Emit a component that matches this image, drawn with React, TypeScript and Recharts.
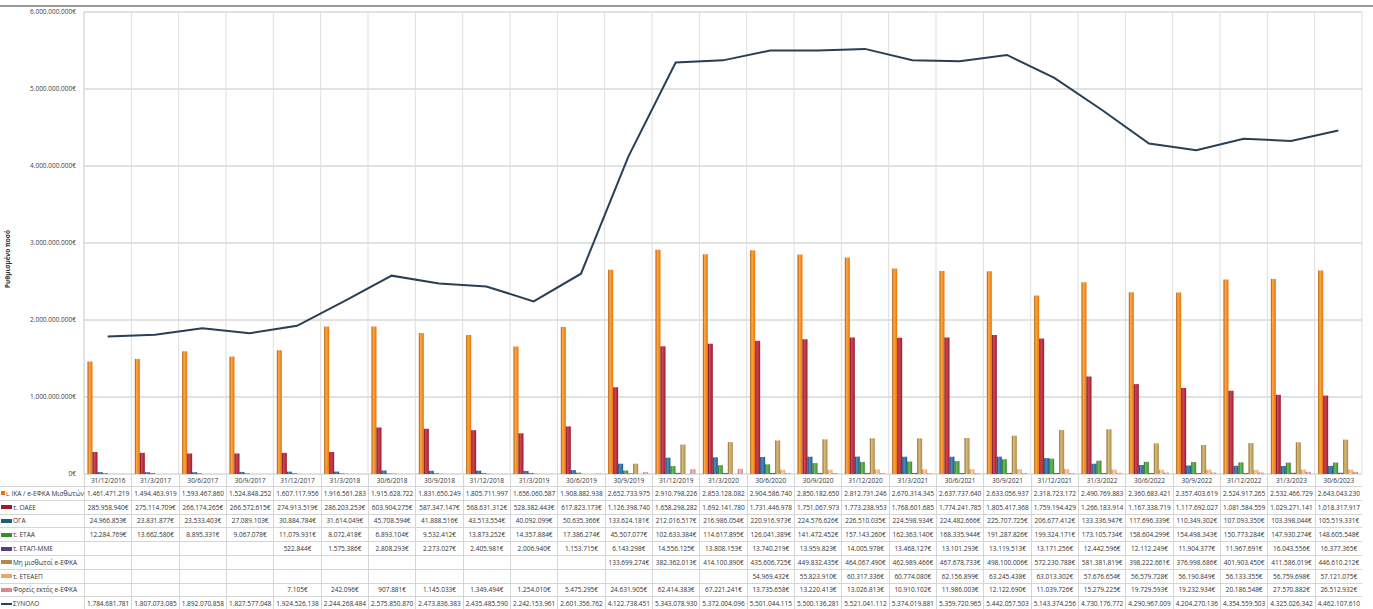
import { ComposedChart, Bar, Line, XAxis, YAxis, CartesianGrid } from "recharts";

const dates = [
  "31/12/2016", "31/3/2017", "30/6/2017", "30/9/2017", "31/12/2017", "31/3/2018",
  "30/6/2018", "30/9/2018", "31/12/2018", "31/3/2019", "30/6/2019", "30/9/2019",
  "31/12/2019", "31/3/2020", "30/6/2020", "30/9/2020", "31/12/2020", "31/3/2021",
  "30/6/2021", "30/9/2021", "31/12/2021", "31/3/2022", "30/6/2022", "30/9/2022",
  "31/12/2022", "31/3/2023", "30/6/2023",
];

const ika = [
  1461471219, 1494463919, 1593467860, 1524848252, 1607117956, 1916561283,
  1915628722, 1831650249, 1805711997, 1656060587, 1908882938, 2652733975,
  2910798226, 2853128082, 2904586740, 2850182650, 2812731246, 2670314345,
  2637737640, 2633056937, 2318723172, 2490769883, 2360683421, 2357403619,
  2524917265, 2532466729, 2643043230,
];
const oaee = [
  285958940, 275114709, 266174265, 266572615, 274913519, 286203253,
  603904275, 587347147, 568631312, 528382443, 617823173, 1126398740,
  1658298282, 1692141780, 1731446978, 1751067973, 1773238953, 1768601685,
  1774241785, 1805417368, 1759194429, 1266183914, 1167338719, 1117692027,
  1081584559, 1029271141, 1018317917,
];
const oga = [
  24966853, 23831877, 23533403, 27089103, 30884784, 31614049,
  45708594, 41888516, 43513554, 40092099, 50635366, 133624181,
  212016517, 216986054, 220916973, 224576626, 226510035, 224598934,
  224482666, 225707725, 206677412, 133336947, 117696339, 110349302,
  107093350, 103398044, 105519331,
];
const etaa = [
  12284769, 13662580, 8895331, 9067078, 11079931, 8072418,
  6893104, 9532412, 13873252, 14357884, 17386274, 45507077,
  102633384, 114617895, 126041389, 141472452, 157143260, 162363140,
  168335944, 191287826, 199324171, 173105734, 158604299, 154498343,
  150773284, 147930274, 148605548,
];
const etapMme = [
  null, null, null, null, 522844, 1575386,
  2808293, 2273027, 2405981, 2006940, 1153715, 6143298,
  14556125, 13808153, 13740219, 13959823, 14005978, 13468127,
  13101293, 13119513, 13171256, 12442596, 12112249, 11904377,
  11967691, 16043556, 16377365,
];
const miMisthotoi = [
  null, null, null, null, null, null,
  null, null, null, null, null, 133699274,
  382362013, 414100890, 435606725, 449832435, 464067490, 462989466,
  467678733, 498100006, 572230788, 581381819, 398222661, 376998686,
  401903450, 411586019, 446610212,
];
const eteaep = [
  null, null, null, null, null, null,
  null, null, null, null, null, null,
  null, null, 54969432, 55823910, 60317336, 60774080,
  62156899, 63245438, 63013302, 57676654, 56579728, 56190849,
  56133355, 56759698, 57121075,
];
const foreis = [
  null, null, null, null, 7105, 242096,
  907881, 1145033, 1349494, 1254010, 5475295, 24631905,
  62414383, 67221241, 13735658, 13220413, 13026813, 10910102,
  11986003, 12122690, 11039726, 15279225, 19729593, 19232934,
  20186548, 27570882, 26512932,
];
const synolo = [
  1784681781, 1807073085, 1892070858, 1827577048, 1924526138, 2244268484,
  2575850870, 2473836383, 2435485590, 2242153961, 2601356762, 4122738451,
  5343078930, 5372004096, 5501044115, 5500136281, 5521041112, 5374019881,
  5359720965, 5442057503, 5143374256, 4730176772, 4290967009, 4204270136,
  4354559503, 4325026342, 4462107610,
];

const yTicks = [0, 1000000000, 2000000000, 3000000000, 4000000000, 5000000000, 6000000000];

const series = [
  { key: "ika", name: "ι. ΙΚΑ / e-ΕΦΚΑ Μισθωτών", values: ika, base: "#E97300", light: "#FFA84A", dark: "#A85200" },
  { key: "oaee", name: "τ. ΟΑΕΕ", values: oaee, base: "#9C1A2C", light: "#D2475A", dark: "#6A0F1C" },
  { key: "oga", name: "ΟΓΑ", values: oga, base: "#1E5C88", light: "#4D8FC2", dark: "#123C5C" },
  { key: "etaa", name: "τ. ΕΤΑΑ", values: etaa, base: "#3A8A30", light: "#6FBE5E", dark: "#245E1C" },
  { key: "etap", name: "τ. ΕΤΑΠ-ΜΜΕ", values: etapMme, base: "#5C3A8C", light: "#8C6CBC", dark: "#3C2462" },
  { key: "mi", name: "Μη μισθωτοί e-ΕΦΚΑ", values: miMisthotoi, base: "#B08A46", light: "#DCBE7E", dark: "#7E602C" },
  { key: "eteaep", name: "τ. ΕΤΕΑΕΠ", values: eteaep, base: "#F0A466", light: "#FFD2A4", dark: "#C47C40" },
  { key: "foreis", name: "Φορείς εκτός e-ΕΦΚΑ", values: foreis, base: "#D68A92", light: "#F2BCC2", dark: "#AA626A" },
];

const data = dates.map((d, i) => {
  const row: Record<string, string | number | null> = { date: d, synolo: synolo[i] };
  series.forEach((s) => (row[s.key] = s.values[i]));
  return row;
});

const dots = (v: number) => Math.round(v).toString().replace(/\B(?=(\d{3})+(?!\d))/g, ".");
const cellText = (v: number | null) => (v == null ? "" : v >= 1e9 ? dots(v) : dots(v) + "€");

const FONT = '"Liberation Sans Narrow", "Open Sans", sans-serif';
const LINE = "#283F55";
const BORDER = "1px solid #d6d6d6";

export default function App() {
  const rows = [
    ...series.map((s) => ({ name: s.name, values: s.values, key: s.key, color: s.base, isLine: false })),
    { name: "ΣΥΝΟΛΟ", values: synolo, key: "synolo", color: LINE, isLine: true },
  ];
  const gridCols = `84px repeat(${dates.length}, 1fr)`;
  const rowH = 12.8;

  const cell = {
    height: rowH,
    borderLeft: BORDER,
    borderBottom: BORDER,
    display: "flex",
    alignItems: "center",
    justifyContent: "center",
    whiteSpace: "nowrap" as const,
    overflow: "hidden",
  };

  return (
    <div style={{ position: "absolute", left: 0, top: 0, width: 1373, height: 609, background: "#fff", overflow: "hidden", fontFamily: FONT }}>
      <div style={{ position: "absolute", left: 0, top: 5, width: 1373, height: 2, background: "#9a9a9a" }} />
      <div style={{ position: "absolute", left: 0, top: 0 }}>
        <ComposedChart
          width={1373}
          height={490}
          data={data}
          margin={{ top: 12, right: 11, left: 0, bottom: 16 }}
          barCategoryGap={3.5}
          barGap={0}
        >
          <defs>
            {series.map((s) => (
              <linearGradient key={s.key} id={`g-${s.key}`} x1="0" y1="0" x2="1" y2="0">
                <stop offset="0%" stopColor={s.dark} />
                <stop offset="35%" stopColor={s.light} />
                <stop offset="100%" stopColor={s.base} />
              </linearGradient>
            ))}
          </defs>
          <CartesianGrid vertical={false} stroke="#c4c4c4" />
          <CartesianGrid
            horizontal={false}
            stroke="#dedede"
            verticalCoordinatesGenerator={({ offset }: any) =>
              Array.from({ length: dates.length + 1 }, (_, i) => offset.left + (i * offset.width) / dates.length)
            }
          />
          <XAxis dataKey="date" hide />
          <YAxis
            width={84}
            domain={[0, 6000000000]}
            ticks={yTicks}
            interval={0}
            tickFormatter={(v: number) => dots(v) + "€"}
            tick={{ fontSize: 6.5, fill: "#404040", fontFamily: FONT }}
            axisLine={{ stroke: "#d6d6d6" }}
            tickLine={false}
            label={{
              content: () => (
                <text
                  x={10}
                  y={259}
                  transform="rotate(-90 10 259)"
                  textAnchor="middle"
                  fontSize={6.5}
                  fontWeight="bold"
                  fill="#333"
                  fontFamily={FONT}
                >
                  Ρυθμισμένο ποσό
                </text>
              ),
            }}
          />
          {series.map((s) => (
            <Bar key={s.key} dataKey={s.key} name={s.name} fill={`url(#g-${s.key})`} isAnimationActive={false} />
          ))}
          <Line
            type="linear"
            dataKey="synolo"
            name="ΣΥΝΟΛΟ"
            stroke={LINE}
            strokeWidth={2}
            dot={false}
            isAnimationActive={false}
          />
        </ComposedChart>
      </div>

      <div
        style={{
          position: "absolute",
          left: 0,
          top: 474,
          width: 1362,
          display: "grid",
          gridTemplateColumns: gridCols,
          fontSize: 6.5,
          color: "#333",
        }}
      >
        <div style={{ height: 12, borderBottom: BORDER }} />
        {dates.map((d) => (
          <div key={d} style={{ ...cell, height: 12 }}>
            {d}
          </div>
        ))}
        {rows.map((r) => [
          <div
            key={r.key + "-label"}
            style={{
              height: rowH,
              borderBottom: BORDER,
              display: "flex",
              alignItems: "center",
              whiteSpace: "nowrap",
              overflow: "hidden",
            }}
          >
            <span
              style={{
                display: "inline-block",
                width: 11,
                height: r.isLine ? 2 : 4,
                background: r.color,
                marginLeft: 1,
                marginRight: 1,
              }}
            />
            {r.name}
          </div>,
          ...r.values.map((v, i) => (
            <div key={r.key + i} style={cell}>
              {cellText(v)}
            </div>
          )),
        ])}
      </div>
    </div>
  );
}
